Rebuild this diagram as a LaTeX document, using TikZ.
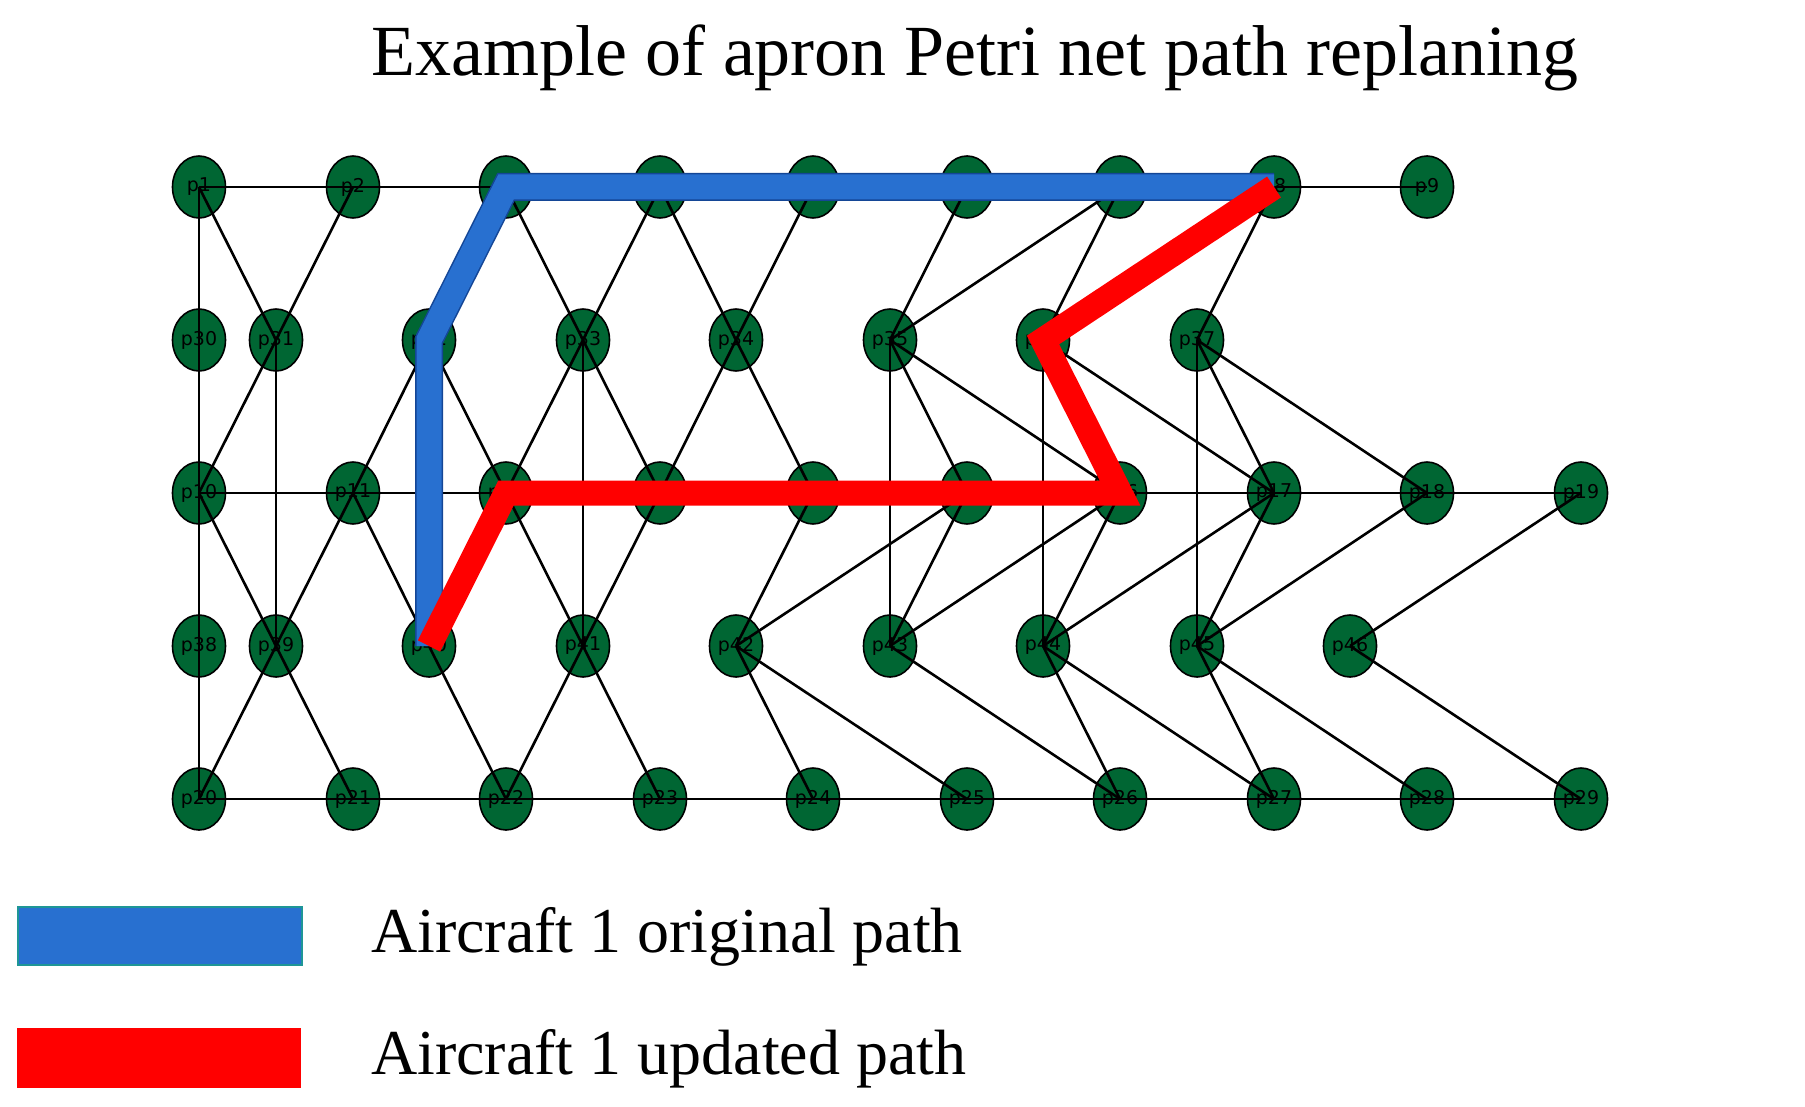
\documentclass[tikz,border=0pt]{standalone}
\usepackage{fontspec}
\setmainfont{Liberation Serif}
\newfontfamily\lblfont{DejaVu Sans}
\definecolor{pgreen}{RGB}{0,102,51}
\definecolor{pblue}{RGB}{40,112,208}
\definecolor{pblueb}{RGB}{20,70,150}
\definecolor{pred}{RGB}{255,0,0}
\definecolor{pteal}{RGB}{30,150,150}
\begin{document}
\begin{tikzpicture}[x=0.5pt,y=-0.5pt,
  place/.style={ellipse,draw=black,line width=0.8pt,fill=pgreen,minimum width=26.5pt,minimum height=31pt,inner sep=0pt,font=\lblfont\fontsize{9.5}{10}\selectfont},
  edge/.style={black,line width=1.3pt},
  bluepath/.style={pblue,line width=12.5pt,line join=miter},
  redpath/.style={pred,line width=12.5pt,line join=miter}]
\usetikzlibrary{shapes.geometric}
\useasboundingbox (0,0) rectangle (1805,1107);
% row 0
\foreach \n/\x in {1/199,2/353,3/506,4/660,5/813,6/967,7/1120,8/1274,9/1427}
  \node[place] (p\n) at (\x,187) {p\n};
\foreach \n/\x in {30/199,31/276,32/429,33/583,34/736,35/890,36/1043,37/1197}
  \node[place] (p\n) at (\x,340) {p\n};
\foreach \n/\x in {10/199,11/353,12/506,13/660,14/813,15/967,16/1120,17/1274,18/1427,19/1581}
  \node[place] (p\n) at (\x,493) {p\n};
\foreach \n/\x in {38/199,39/276,40/429,41/583,42/736,43/890,44/1043,45/1197,46/1350}
  \node[place] (p\n) at (\x,646) {p\n};
\foreach \n/\x in {20/199,21/353,22/506,23/660,24/813,25/967,26/1120,27/1274,28/1427,29/1581}
  \node[place] (p\n) at (\x,799) {p\n};
% edges
\foreach \a/\b in {1/2,2/3,3/4,4/5,5/6,6/7,7/8,8/9,
  10/11,11/12,12/13,13/14,14/15,15/16,16/17,17/18,18/19,
  20/21,21/22,22/23,23/24,24/25,25/26,26/27,27/28,28/29,
  1/30,30/10,10/38,38/20,31/39,32/40,33/41,35/43,36/44,37/45,
  1/31,2/31,31/10,11/32,3/32,3/33,4/33,4/34,5/34,32/12,33/12,33/13,34/13,34/14,
  35/6,35/7,36/7,37/8,35/15,35/16,36/16,36/17,37/17,37/18,
  10/39,11/39,11/40,12/40,12/41,13/41,39/20,39/21,40/22,41/22,41/23,
  42/14,42/15,42/24,42/25,43/15,43/16,43/26,44/16,44/17,44/26,44/27,
  45/17,45/18,45/27,45/28,46/19,46/29}
  \draw[edge] (p\a.center) -- (p\b.center);
% paths
\draw[pblueb,line width=14pt] (p8.center) -- (p3.center) -- (p32.center) -- (p40.center);
\draw[bluepath] (p8.center) -- (p3.center) -- (p32.center) -- (p40.center);
\draw[redpath] (p40.center) -- (p12.center) -- (p16.center) -- (p36.center) -- (p8.center);
% title
\node[anchor=west,font=\fontsize{36}{40}\selectfont] (title) at (364,58) {Example of apron Petri net path replaning};
% legend
\node[draw=pteal,line width=1.2pt,fill=pblue,minimum width=142pt,minimum height=29pt,inner sep=0pt,anchor=north west] (lb) at (17,906) {};
\node[fill=pred,minimum width=142pt,minimum height=30pt,inner sep=0pt,anchor=north west] (lr) at (17,1028) {};
\node[anchor=west,font=\fontsize{32}{36}\selectfont] (tb) at (364,937) {Aircraft 1 original path};
\node[anchor=west,font=\fontsize{32}{36}\selectfont] (tr) at (364,1059) {Aircraft 1 updated path};
\end{tikzpicture}
\end{document}
